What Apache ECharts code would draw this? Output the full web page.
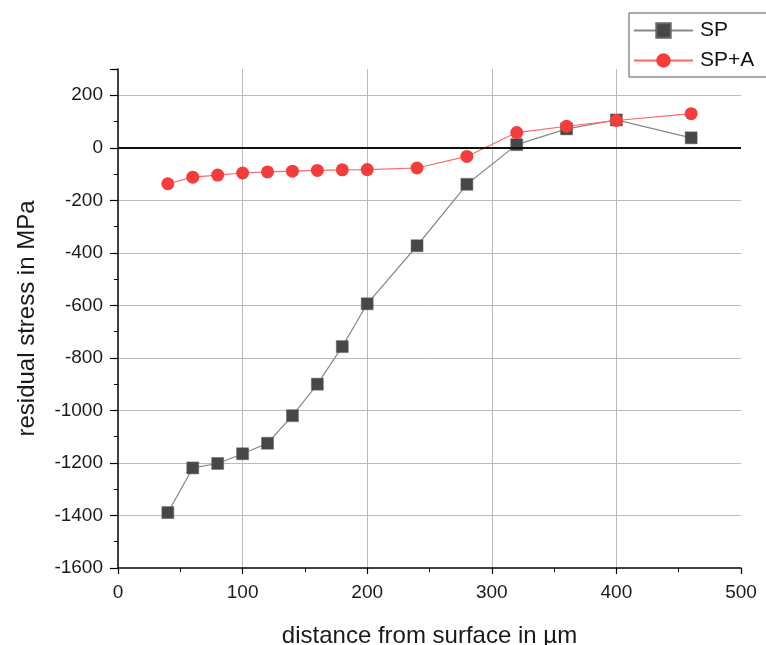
<!DOCTYPE html>
<html><head><meta charset="utf-8">
<script src="https://cdn.jsdelivr.net/npm/echarts@6/dist/echarts.min.js"></script>
<style>html,body{margin:0;padding:0;background:#fff}#c{width:766px;height:645px}</style>
</head><body><div id="c"></div>
<script>
const depth = [40, 60, 80, 100, 120, 140, 160, 180, 200, 240, 280, 320, 360, 400, 460];
const sp = [-1389, -1219, -1202, -1165, -1125, -1020, -900, -757, -594, -373, -139, 12, 72, 106, 38];
const spa = [-137, -112, -104, -96, -92, -89, -86, -84, -83, -77, -33, 58, 82, 104, 130];
const seriesNames = ['SP', 'SP+A'];

const chart = echarts.init(document.getElementById('c'));
const font = 'Liberation Sans, Arial, sans-serif';
chart.setOption({
  animation: false,
  grid: {left: 118, right: 25, top: 69, bottom: 77, containLabel: false, outerBoundsMode: 'none'},
  legend: {
    orient: 'vertical', left: 629, top: 13,
    data: seriesNames,
    borderColor: '#555', borderWidth: 1, borderRadius: 0,
    padding: [7, 40, 6, 4], itemGap: 9, itemWidth: 59, itemHeight: 18,
    textStyle: {fontFamily: font, fontSize: 21, color: '#111', padding: [0, 0, 0, 2]}
  },
  xAxis: {
    type: 'value', min: 0, max: 500, interval: 100,
    name: 'distance from surface in µm', nameLocation: 'middle', nameGap: 56,
    nameTextStyle: {fontFamily: font, fontSize: 24, color: '#1a1a1a'},
    axisLine: {onZero: false, lineStyle: {color: '#000', width: 1.5}},
    axisTick: {show: true, length: 6, inside: false, lineStyle: {color: '#000', width: 1.2}},
    minorTick: {show: true, splitNumber: 2, length: 4, lineStyle: {color: '#000'}},
    axisLabel: {fontFamily: font, fontSize: 19, color: '#1a1a1a', margin: 15},
    splitLine: {show: true, showMinLine: false, showMaxLine: false, lineStyle: {color: '#bbb', width: 1}}
  },
  yAxis: {
    type: 'value', min: -1600, max: 300, interval: 200,
    name: 'residual stress in MPa', nameLocation: 'middle', nameGap: 79, nameRotate: 90,
    nameTextStyle: {fontFamily: font, fontSize: 24, color: '#1a1a1a'},
    axisLine: {show: true, lineStyle: {color: '#000', width: 1.5}},
    axisTick: {show: true, length: 8, lineStyle: {color: '#000', width: 1.2}},
    minorTick: {show: true, splitNumber: 2, length: 4, lineStyle: {color: '#000'}},
    axisLabel: {fontFamily: font, fontSize: 19, color: '#1a1a1a', margin: 15, showMaxLabel: false,
      formatter: v => v > 250 ? '' : String(v)},
    splitLine: {show: true, showMinLine: false, showMaxLine: false, lineStyle: {color: '#bbb', width: 1}}
  },
  series: [
    {
      name: seriesNames[0], type: 'line',
      data: depth.map((d, i) => [d, sp[i]]),
      symbol: 'rect', symbolSize: 12,
      itemStyle: {color: '#474747', borderColor: '#666', borderWidth: 0.5},
      lineStyle: {color: '#888', width: 1.2},
      z: 3,
      markLine: {
        silent: true, symbol: 'none', label: {show: false},
        lineStyle: {color: '#111', width: 2, type: 'solid'},
        data: [{yAxis: 0}]
      }
    },
    {
      name: seriesNames[1], type: 'line',
      data: depth.map((d, i) => [d, spa[i]]),
      symbol: 'circle', symbolSize: 13,
      itemStyle: {color: '#f43c3c'},
      lineStyle: {color: '#f66', width: 1.2},
      z: 4
    }
  ]
});
</script></body></html>
